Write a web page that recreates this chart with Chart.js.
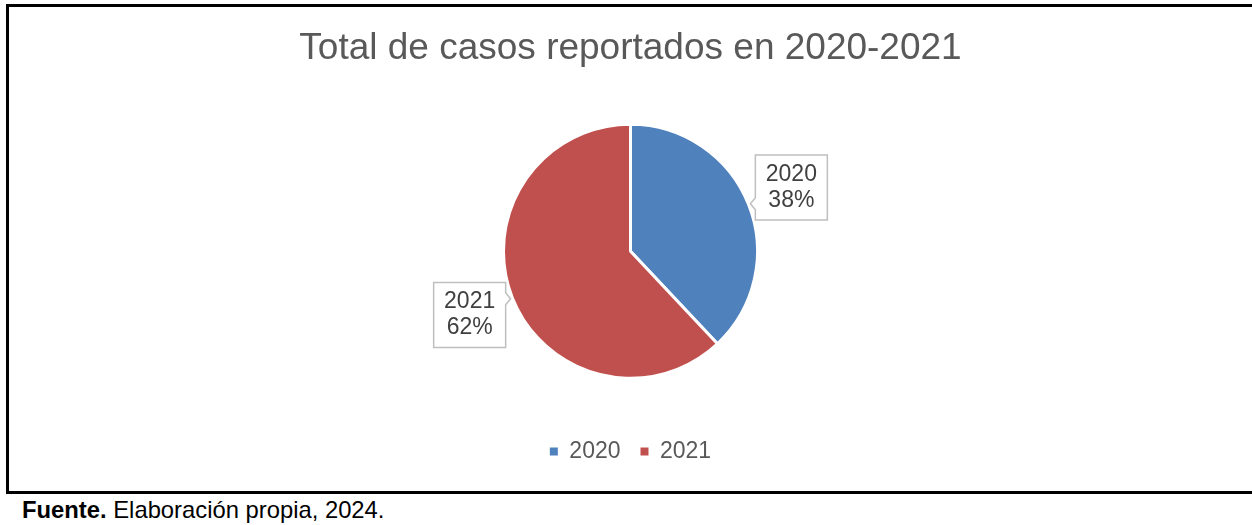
<!DOCTYPE html>
<html>
<head>
<meta charset="utf-8">
<script src="https://cdn.jsdelivr.net/npm/chart.js@4.4.1/dist/chart.umd.min.js"></script>
<style>
  html, body { margin: 0; padding: 0; background: #fff; overflow: hidden; }
  body { width: 1252px; height: 525px; position: relative; font-family: "Liberation Sans", Arial, sans-serif; }
  #topline { position: absolute; left: 6px; top: 4px; width: 1246px; height: 3px; background: #000; }
  #leftline { position: absolute; left: 6px; top: 4px; width: 3px; height: 490px; background: #000; }
  #bottomline { position: absolute; left: 6px; top: 491px; width: 1246px; height: 3px; background: #000; }
  #box { position: absolute; left: 9px; top: 7px; width: 1243px; height: 484px; }
  #fuente { position: absolute; left: 22px; top: 496px; font-size: 23.8px; color: #000; white-space: nowrap; }
</style>
</head>
<body>
<div id="topline"></div>
<div id="leftline"></div>
<div id="bottomline"></div>
<div id="box"><canvas id="Chart1"></canvas></div>
<div id="fuente"><b>Fuente.</b> Elaboración propia, 2024.</div>
<script>
var titleText = 'Total de casos reportados en 2020-2021';
var years = ['2020', '2021'];
var shares = [38, 62];
var colors = ['#4F81BD', '#C0504D'];

// callout boxes next to each slice
var calloutPlugin = {
    id: 'callouts',
    afterDatasetsDraw: function(chart) {
        var ctx = chart.ctx;
        var meta = chart.getDatasetMeta(0);
        var total = shares.reduce(function(a, b) { return a + b; }, 0);
        meta.data.forEach(function(arc, i) {
            var p = arc.getProps(['x', 'y', 'startAngle', 'endAngle', 'outerRadius'], true);
            var mid = (p.startAngle + p.endAngle) / 2;
            var dx = Math.cos(mid), dy = Math.sin(mid);
            var tipX = p.x + dx * (p.outerRadius + 2);
            var tipY = p.y + dy * (p.outerRadius + 2);
            var cx = p.x + dx * (p.outerRadius + 46);
            var cy = p.y + dy * (p.outerRadius + 46);
            var w = 72, h = 65;
            var left = cx - w / 2, right = cx + w / 2, top = cy - h / 2, bottom = cy + h / 2;
            ctx.save();
            ctx.beginPath();
            if (dx >= 0) {
                ctx.moveTo(left, top);
                ctx.lineTo(right, top);
                ctx.lineTo(right, bottom);
                ctx.lineTo(left, bottom);
                ctx.lineTo(left, tipY + 6);
                ctx.lineTo(tipX, tipY);
                ctx.lineTo(left, tipY - 6);
            } else {
                ctx.moveTo(left, top);
                ctx.lineTo(right, top);
                ctx.lineTo(right, tipY - 6);
                ctx.lineTo(tipX, tipY);
                ctx.lineTo(right, tipY + 6);
                ctx.lineTo(right, bottom);
                ctx.lineTo(left, bottom);
            }
            ctx.closePath();
            ctx.fillStyle = '#fff';
            ctx.fill();
            ctx.strokeStyle = '#BFBFBF';
            ctx.lineWidth = 1.5;
            ctx.stroke();
            ctx.fillStyle = '#404040';
            ctx.font = '23px "Liberation Sans", Arial, sans-serif';
            ctx.textAlign = 'center';
            ctx.textBaseline = 'middle';
            ctx.fillText(years[i], cx, cy - 13);
            ctx.fillText(Math.round(shares[i] / total * 100) + '%', cx, cy + 13);
            ctx.restore();
        });
    }
};

var ctx1 = document.getElementById('Chart1').getContext('2d');
var chart1 = new Chart(ctx1, {
    type: 'pie',
    data: {
        labels: years,
        datasets: [{
            data: shares,
            backgroundColor: colors,
            borderColor: '#fff',
            borderWidth: 3,
            radius: 127
        }]
    },
    options: {
        responsive: true,
        maintainAspectRatio: false,
        animation: false,
        layout: { padding: { top: 0, bottom: 18 } },
        plugins: {
            title: {
                display: true,
                text: titleText,
                color: '#595959',
                font: { family: '"Liberation Sans", Arial, sans-serif', size: 37, weight: 'normal' },
                padding: { top: 20, bottom: 11 }
            },
            legend: {
                position: 'bottom',
                labels: {
                    color: '#595959',
                    font: { family: '"Liberation Sans", Arial, sans-serif', size: 23 },
                    usePointStyle: true,
                    pointStyle: 'rect',
                    boxWidth: 8,
                    boxHeight: 8,
                    padding: 20,
                    generateLabels: function(chart) {
                        var items = Chart.controllers.pie.overrides.plugins.legend.labels.generateLabels(chart);
                        items.forEach(function(it) {
                            it.lineWidth = 0;
                            it.strokeStyle = it.fillStyle;
                        });
                        return items;
                    }
                }
            },
            tooltip: { enabled: false }
        }
    },
    plugins: [calloutPlugin]
});
</script>
</body>
</html>
